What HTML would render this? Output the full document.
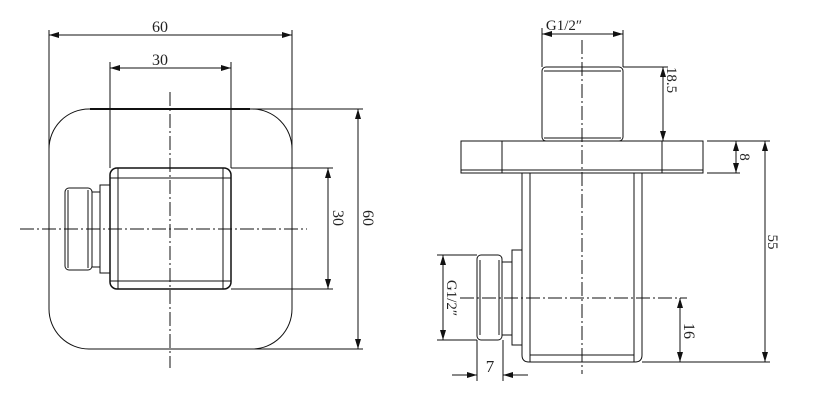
<!DOCTYPE html>
<html><head><meta charset="utf-8"><style>
html,body{margin:0;padding:0;background:#fff;}
svg{display:block;}
text{font-family:"Liberation Serif",serif;fill:#222;}
</style></head><body>
<svg width="826" height="404" viewBox="0 0 826 404" xmlns="http://www.w3.org/2000/svg">
<defs>
<marker id="a" viewBox="0 0 10 6" refX="10" refY="3" markerWidth="10" markerHeight="6" orient="auto-start-reverse" markerUnits="userSpaceOnUse"><path d="M0,0 L10,3 L0,6 z" fill="#111"/></marker>
</defs>
<g stroke="#111" fill="none" stroke-width="1">
<rect x="49" y="109" width="243" height="240" rx="40" ry="40"/>
<line x1="90" y1="109" x2="250" y2="109" stroke-width="2"/>
<line x1="170" y1="92" x2="170" y2="368" stroke-dasharray="14,3,2,3"/>
<line x1="20" y1="229" x2="307" y2="229" stroke-dasharray="14,3,2,3"/>
<rect x="110" y="168" width="121" height="121" rx="7" stroke-width="1.5"/>
<line x1="118" y1="168" x2="118" y2="289"/>
<line x1="223" y1="168" x2="223" y2="289"/>
<line x1="110" y1="178" x2="231" y2="178"/>
<line x1="110" y1="281" x2="231" y2="281"/>
<rect x="100" y="185" width="10" height="88"/>
<rect x="92" y="192" width="8" height="75"/>
<rect x="65" y="188" width="27" height="82" rx="4"/>
<line x1="68" y1="190" x2="68" y2="268"/>
<line x1="88" y1="190" x2="88" y2="268"/>
<line x1="49" y1="30" x2="49" y2="150"/>
<line x1="292" y1="30" x2="292" y2="150"/>
<line x1="49" y1="35" x2="292" y2="35" marker-start="url(#a)" marker-end="url(#a)"/>
<line x1="110" y1="62" x2="110" y2="168"/>
<line x1="231" y1="62" x2="231" y2="168"/>
<line x1="110" y1="68" x2="231" y2="68" marker-start="url(#a)" marker-end="url(#a)"/>
<line x1="231" y1="168" x2="333" y2="168"/>
<line x1="231" y1="289" x2="333" y2="289"/>
<line x1="328" y1="168" x2="328" y2="289" marker-start="url(#a)" marker-end="url(#a)"/>
<line x1="250" y1="109" x2="363" y2="109"/>
<line x1="250" y1="349" x2="363" y2="349"/>
<line x1="358" y1="109" x2="358" y2="349" marker-start="url(#a)" marker-end="url(#a)"/>

<line x1="582" y1="40" x2="582" y2="374" stroke-dasharray="14,3,2,3"/>
<line x1="460" y1="298" x2="687" y2="298" stroke-dasharray="14,3,2,3"/>
<rect x="542" y="67" width="81" height="74" rx="4"/>
<line x1="544" y1="71" x2="621" y2="71"/>
<line x1="544" y1="138" x2="621" y2="138"/>
<rect x="461" y="141" width="242" height="32"/>
<line x1="461" y1="170" x2="703" y2="170"/>
<line x1="502" y1="141" x2="502" y2="173"/>
<line x1="662" y1="141" x2="662" y2="173"/>
<path d="M522,173 V355 Q522,362 529,362 H635 Q642,362 642,355 V173"/>
<line x1="530" y1="173" x2="530" y2="362"/>
<line x1="634" y1="173" x2="634" y2="362"/>
<line x1="530" y1="355" x2="634" y2="355"/>
<rect x="512" y="250" width="10" height="95"/>
<rect x="502" y="262" width="10" height="73"/>
<rect x="477" y="255" width="25" height="85" rx="4"/>
<line x1="480" y1="260" x2="480" y2="335"/>
<line x1="499" y1="260" x2="499" y2="335"/>
<line x1="542" y1="28" x2="542" y2="67"/>
<line x1="623" y1="30" x2="623" y2="67"/>
<line x1="542" y1="34" x2="623" y2="34" marker-start="url(#a)" marker-end="url(#a)"/>
<line x1="623" y1="67" x2="668" y2="67"/>
<line x1="663" y1="67" x2="663" y2="141" marker-start="url(#a)" marker-end="url(#a)"/>
<line x1="707" y1="141" x2="740" y2="141"/>
<line x1="707" y1="173" x2="740" y2="173"/>
<line x1="736" y1="141" x2="736" y2="173" marker-start="url(#a)" marker-end="url(#a)"/>
<line x1="740" y1="141" x2="770" y2="141"/>
<line x1="642" y1="362" x2="770" y2="362"/>
<line x1="765" y1="141" x2="765" y2="362" marker-start="url(#a)" marker-end="url(#a)"/>
<line x1="680" y1="298" x2="680" y2="362" marker-start="url(#a)" marker-end="url(#a)"/>
<line x1="437" y1="255" x2="477" y2="255"/>
<line x1="437" y1="340" x2="477" y2="340"/>
<line x1="443" y1="255" x2="443" y2="340" marker-start="url(#a)" marker-end="url(#a)"/>
<line x1="477" y1="340" x2="477" y2="381"/>
<line x1="503" y1="340" x2="503" y2="381"/>
<line x1="452" y1="375" x2="477" y2="375" marker-end="url(#a)"/>
<line x1="528" y1="375" x2="503" y2="375" marker-end="url(#a)"/>
</g>
<g font-size="16">
<text x="160" y="32" text-anchor="middle" font-family="Liberation Sans">60</text>
<text x="160" y="65" text-anchor="middle" font-family="Liberation Sans">30</text>
<text transform="translate(333,218) rotate(90)" text-anchor="middle" font-family="Liberation Sans">30</text>
<text transform="translate(363,218) rotate(90)" text-anchor="middle" font-family="Liberation Sans">60</text>
<text x="564" y="30" text-anchor="middle" font-size="15">G1/2″</text>
<text transform="translate(667,80) rotate(90)" text-anchor="middle" font-size="15">18.5</text>
<text transform="translate(740,157) rotate(90)" text-anchor="middle" font-size="15">8</text>
<text transform="translate(768,242) rotate(90)" text-anchor="middle" font-size="15">55</text>
<text transform="translate(684,331) rotate(90)" text-anchor="middle" font-size="16">16</text>
<text transform="translate(447,298) rotate(90)" text-anchor="middle" font-size="15">G1/2″</text>
<text x="490" y="372" text-anchor="middle" font-size="17">7</text>
</g>
</svg>
</body></html>
